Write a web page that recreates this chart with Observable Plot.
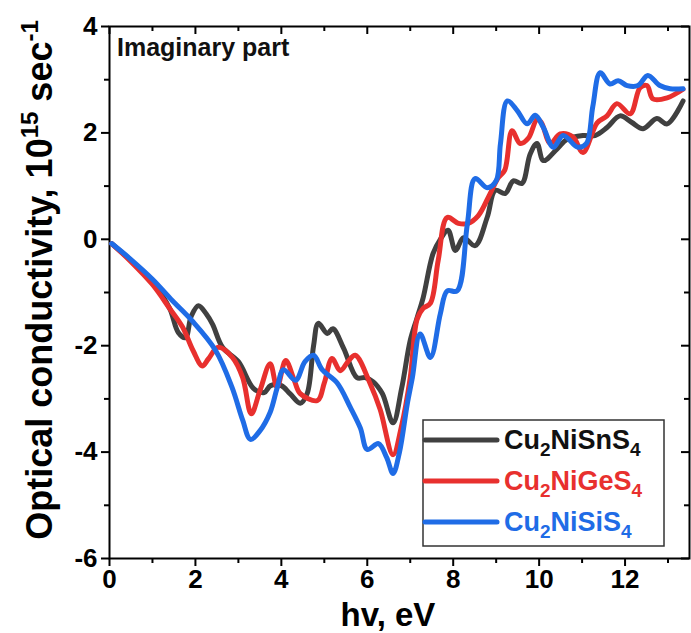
<!DOCTYPE html>
<html>
<head>
<meta charset="utf-8">
<script src="https://cdn.jsdelivr.net/npm/d3@7"></script>
<script src="https://cdn.jsdelivr.net/npm/@observablehq/plot@0.6"></script>
<style>
  html, body { margin: 0; padding: 0; background: #fff; }
  svg { font-family: "Liberation Sans", Arial, sans-serif; }
</style>
</head>
<body>
<div id="chart"></div>
<script>
// ---- data ----
const seriesNames = ["Cu2NiSnS4", "Cu2NiGeS4", "Cu2NiSiS4"];
const seriesColors = ["#404040", "#e8302e", "#1f6ce6"];

const snE = [0.05,0.5,1.0,1.4,1.6,1.77,1.9,2.07,2.25,2.4,2.63,3.0,3.35,3.6,3.75,4.0,4.2,4.44,4.6,4.75,4.86,5.07,5.2,5.45,5.76,5.95,6.14,6.35,6.6,6.8,7.0,7.15,7.3,7.53,7.7,7.88,8.05,8.24,8.51,8.79,8.98,9.21,9.4,9.6,9.79,9.95,10.1,10.42,10.65,11.02,11.3,11.58,11.88,12.15,12.42,12.74,12.98,13.35];
const snV = [-0.08,-0.4,-0.8,-1.3,-1.75,-1.85,-1.45,-1.25,-1.4,-1.6,-2.03,-2.3,-2.8,-2.88,-2.75,-2.75,-2.9,-3.08,-2.9,-2.0,-1.58,-1.77,-1.68,-2.05,-2.6,-2.6,-2.68,-2.9,-3.45,-2.8,-1.9,-1.5,-1.1,-0.27,0.0,0.17,-0.21,0.03,-0.12,0.41,0.92,0.86,1.1,1.05,1.6,1.8,1.48,1.7,1.88,1.95,1.95,2.1,2.32,2.2,2.08,2.27,2.17,2.6];

const geE = [0.05,0.5,1.0,1.4,1.7,1.95,2.16,2.3,2.53,2.86,3.1,3.3,3.5,3.74,3.9,4.1,4.3,4.44,4.84,5.0,5.18,5.37,5.55,5.72,6.07,6.3,6.6,6.8,7.0,7.16,7.3,7.47,7.65,7.86,8.12,8.35,8.58,8.86,9.05,9.2,9.37,9.56,9.75,9.95,10.05,10.26,10.49,10.79,11.02,11.35,11.58,11.81,12.12,12.35,12.51,12.65,12.98,13.35];
const geV = [-0.08,-0.42,-0.85,-1.3,-1.65,-2.1,-2.38,-2.25,-2.03,-2.22,-2.6,-3.28,-2.85,-2.34,-2.78,-2.28,-2.65,-2.9,-3.03,-2.7,-2.24,-2.47,-2.3,-2.18,-2.72,-3.2,-4.05,-3.5,-2.6,-1.5,-1.3,-1.2,-0.4,0.41,0.3,0.3,0.44,0.86,1.16,1.3,2.04,1.8,1.9,2.25,2.2,1.8,1.98,1.92,1.63,2.19,2.32,2.55,2.36,2.85,2.89,2.64,2.66,2.82];

const siE = [0.05,0.5,1.0,1.46,1.92,2.47,2.85,3.1,3.28,3.5,3.74,3.9,4.05,4.33,4.55,4.75,4.95,5.3,5.6,5.84,6.0,6.26,6.45,6.6,6.75,6.93,7.05,7.23,7.47,7.7,7.86,8.09,8.33,8.51,8.79,9.0,9.1,9.26,9.49,9.72,9.91,10.1,10.33,10.56,10.9,11.1,11.25,11.42,11.65,11.84,12.05,12.3,12.53,12.81,13.05,13.35];
const siV = [-0.08,-0.38,-0.75,-1.15,-1.53,-2.09,-2.78,-3.4,-3.76,-3.6,-3.25,-2.8,-2.45,-2.65,-2.3,-2.18,-2.45,-2.7,-3.15,-3.55,-3.95,-3.84,-4.1,-4.4,-4.0,-3.1,-2.6,-1.78,-2.22,-1.4,-0.97,-0.97,0.29,1.14,0.97,1.1,1.8,2.6,2.42,2.17,2.33,2.1,1.73,1.95,1.73,1.8,2.5,3.13,2.92,2.98,2.89,2.89,3.08,2.89,2.83,2.83];

const xMajor = [0,2,4,6,8,10,12];
const xMinor = [1,3,5,7,9,11,13];
const yMajor = [-6,-4,-2,0,2,4];
const yMinor = [-5,-3,-1,1,3];

// ---- build table ----
const rows = [];
[[snE,snV],[geE,geV],[siE,siV]].forEach(([E,V],i) => {
  E.forEach((e,j) => rows.push({series: seriesNames[i], e, v: V[j]}));
});

const W = 691, H = 633;
const mL = 109, mR = 2, mT = 26, mB = 75;
const plotW = W - mL - mR, plotH = H - mT - mB;

const chart = Plot.plot({
  width: W, height: H,
  marginLeft: mL, marginRight: mR, marginTop: mT, marginBottom: mB,
  x: {domain: [0, 13.5]},
  y: {domain: [-6, 4]},
  color: {domain: seriesNames, range: seriesColors},
  style: {fontFamily: "'Liberation Sans', Arial, sans-serif", color: "#000", background: "#fff"},
  marks: [
    Plot.axisX(xMajor, {tickSize: 8, tickPadding: 3, strokeWidth: 2, label: null, fontSize: 26, fontWeight: "bold"}),
    Plot.axisX(xMinor, {tickSize: 5, strokeWidth: 2, label: null, text: null}),
    Plot.axisY(yMajor, {tickSize: 8, tickPadding: 4, strokeWidth: 2, label: null, fontSize: 26, fontWeight: "bold", tickFormat: d => d}),
    Plot.axisY(yMinor, {tickSize: 5, strokeWidth: 2, label: null, text: null}),
    Plot.tickX(xMajor, {x: d => d, insetBottom: plotH - 8, strokeWidth: 2}),
    Plot.tickX(xMinor, {x: d => d, insetBottom: plotH - 5, strokeWidth: 2}),
    Plot.tickY(yMajor, {y: d => d, insetLeft: plotW - 8, strokeWidth: 2}),
    Plot.tickY(yMinor, {y: d => d, insetLeft: plotW - 5, strokeWidth: 2}),
    Plot.frame({stroke: "#000", strokeWidth: 2}),
    Plot.line(rows, {x: "e", y: "v", stroke: "series", z: "series", strokeWidth: 5, curve: "catmull-rom", strokeLinejoin: "round", strokeLinecap: "round"})
  ]
});

document.getElementById("chart").appendChild(chart);

// ---- annotations (text, titles, legend) ----
const svg = d3.select(chart);

svg.append("text")
  .attr("x", mL + 8).attr("y", 56)
  .attr("text-anchor", "start")
  .attr("font-size", 25).attr("font-weight", "bold").attr("fill", "#111")
  .text("Imaginary part");

// x title
svg.append("text")
  .attr("x", 388).attr("y", 626)
  .attr("text-anchor", "middle")
  .attr("font-size", 33).attr("font-weight", "bold")
  .text("hv, eV");

// y title with superscripts
const yt = svg.append("text")
  .attr("transform", `translate(52, 280) rotate(-90)`)
  .attr("text-anchor", "middle")
  .attr("font-size", 36).attr("font-weight", "bold");
yt.append("tspan").text("Optical conductivity, 10");
yt.append("tspan").attr("font-size", 24).attr("dy", -14).text("15");
yt.append("tspan").attr("dy", 14).text(" sec");
yt.append("tspan").attr("font-size", 24).attr("dy", -14).text("-1");

// legend
const lg = svg.append("g");
const lx0 = 423, ly0 = 420, lw = 241, lh = 126;
lg.append("rect").attr("x", lx0).attr("y", ly0).attr("width", lw).attr("height", lh)
  .attr("fill", "#fff").attr("stroke", "#333").attr("stroke-width", 1.5);
const labelParts = [["Cu","2","NiSnS","4"],["Cu","2","NiGeS","4"],["Cu","2","NiSiS","4"]];
const rowY = [440, 481, 522];
seriesNames.forEach((name, i) => {
  lg.append("line").attr("x1", lx0 + 2).attr("x2", lx0 + 74)
    .attr("y1", rowY[i]).attr("y2", rowY[i])
    .attr("stroke", seriesColors[i]).attr("stroke-width", 5).attr("stroke-linecap", "round");
  const t = lg.append("text").attr("x", lx0 + 81).attr("y", rowY[i] + 9)
    .attr("text-anchor", "start")
    .attr("font-size", 27).attr("font-weight", "bold").attr("fill", i === 0 ? "#111" : seriesColors[i]);
  const p = labelParts[i];
  t.append("tspan").text(p[0]);
  t.append("tspan").attr("font-size", 19).attr("dy", 7).text(p[1]);
  t.append("tspan").attr("dy", -7).text(p[2]);
  t.append("tspan").attr("font-size", 19).attr("dy", 7).text(p[3]);
});
</script>
</body>
</html>
